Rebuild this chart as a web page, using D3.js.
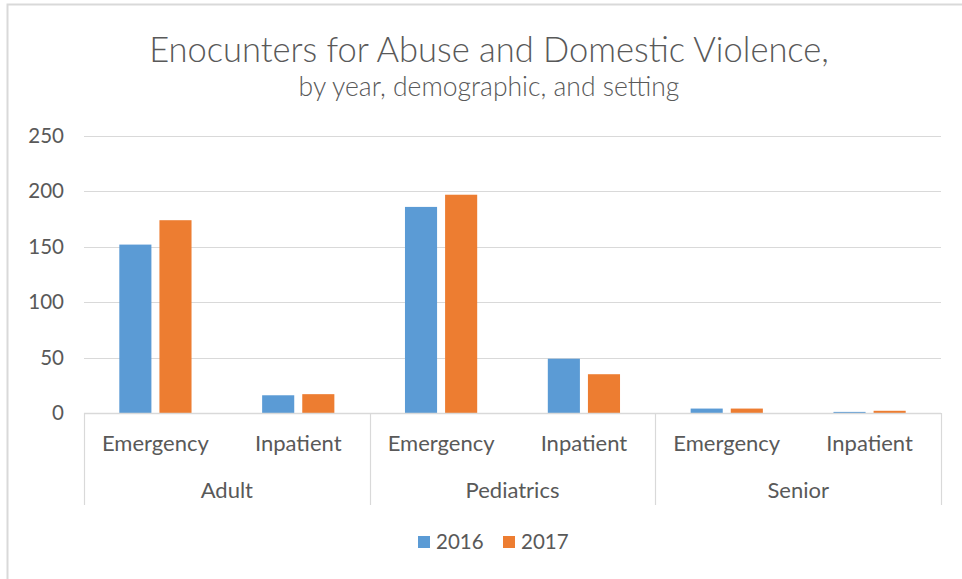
<!DOCTYPE html>
<html>
<head>
<meta charset="utf-8">
<script src="https://cdn.jsdelivr.net/npm/d3@7/dist/d3.min.js"></script>
<style>
  html, body { margin: 0; padding: 0; background: #fff; }
  svg { display: block; }
  text { font-family: Lato, "Open Sans", sans-serif; fill: #595959; }
</style>
</head>
<body>
<svg id="chart" width="962" height="579"></svg>
<script>
// Encounter counts by demographic group and care setting
const groups = ["Adult", "Pediatrics", "Senior"];
const settings = ["Emergency", "Inpatient"];
const years = ["2016", "2017"];
const values2016 = [152, 16, 186, 49, 4, 1];
const values2017 = [174, 17, 197, 35, 4, 2];
const yTicks = [0, 50, 100, 150, 200, 250];

const colors = { "2016": "#5b9bd5", "2017": "#ed7d31" };

const svg = d3.select("#chart");
const W = 962, H = 579;
const plot = { left: 84, right: 941, top: 136, bottom: 413 };

// Chart area border
svg.append("rect")
  .attr("x", 7.5).attr("y", 4.5)
  .attr("width", W + 10).attr("height", H + 10)
  .attr("fill", "#fff").attr("stroke", "#d9d9d9").attr("stroke-width", 2);

// Titles
svg.append("text")
  .attr("x", 489).attr("y", 62)
  .attr("text-anchor", "middle")
  .style("font-size", "34.5px").style("font-weight", 300)
  .text("Enocunters for Abuse and Domestic Violence,");
svg.append("text")
  .attr("x", 489).attr("y", 96)
  .attr("text-anchor", "middle")
  .style("font-size", "26.5px").style("font-weight", 300)
  .text("by year, demographic, and setting");

// Flattened category list: one band per group/setting pair
const cats = [];
groups.forEach(g => settings.forEach(s => cats.push({ group: g, setting: s, key: g + "|" + s })));
cats.forEach((c, i) => { c["2016"] = values2016[i]; c["2017"] = values2017[i]; });

const x0 = d3.scaleBand().domain(cats.map(c => c.key)).range([plot.left, plot.right]).padding(0);
const xg = d3.scaleBand().domain(groups).range([plot.left, plot.right]).padding(0);
const x1 = d3.scaleBand().domain(years).range([0, x0.bandwidth()]).paddingInner(0.2).paddingOuter(0.88);
const y = d3.scaleLinear().domain([0, 250]).range([plot.bottom, plot.top]);

// Gridlines
svg.append("g")
  .selectAll("line").data(yTicks.filter(t => t > 0)).join("line")
  .attr("x1", plot.left).attr("x2", plot.right)
  .attr("y1", d => Math.round(y(d)) + 0.5).attr("y2", d => Math.round(y(d)) + 0.5)
  .attr("stroke", "#d9d9d9").attr("stroke-width", 1.2);

// Y axis labels
const yAxis = d3.axisLeft(y).tickValues(yTicks).tickSize(0).tickPadding(20);
const ya = svg.append("g").attr("transform", `translate(${plot.left},0)`).call(yAxis);
ya.select(".domain").remove();
ya.selectAll("text").style("font-size", "20.5px").attr("fill", "#595959")
  .style("font-family", "Lato, 'Open Sans', sans-serif");

// Bars
const barG = svg.append("g");
cats.forEach(c => {
  barG.selectAll(null).data(years).join("rect")
    .attr("x", yr => x0(c.key) + x1(yr))
    .attr("width", x1.bandwidth())
    .attr("y", yr => y(c[yr]))
    .attr("height", yr => y(0) - y(c[yr]))
    .attr("fill", yr => colors[yr]);
});

// Category axis: baseline plus group dividers
const axisG = svg.append("g");
axisG.append("line")
  .attr("x1", plot.left).attr("x2", plot.right)
  .attr("y1", plot.bottom + 0.5).attr("y2", plot.bottom + 0.5)
  .attr("stroke", "#d9d9d9").attr("stroke-width", 1.5);
const dividers = groups.map(g => xg(g)).concat([plot.right]);
axisG.selectAll("line.div").data(dividers).join("line")
  .attr("class", "div")
  .attr("x1", d => Math.round(d) + 0.5).attr("x2", d => Math.round(d) + 0.5)
  .attr("y1", plot.bottom).attr("y2", 505)
  .attr("stroke", "#d9d9d9").attr("stroke-width", 1.2);

// Setting labels
axisG.selectAll("text.set").data(cats).join("text")
  .attr("class", "set")
  .attr("x", c => x0(c.key) + x0.bandwidth() / 2)
  .attr("y", 451)
  .attr("text-anchor", "middle")
  .style("font-size", "22px")
  .text(c => c.setting);

// Group labels
axisG.selectAll("text.grp").data(groups).join("text")
  .attr("class", "grp")
  .attr("x", g => xg(g) + xg.bandwidth() / 2)
  .attr("y", 498)
  .attr("text-anchor", "middle")
  .style("font-size", "22px")
  .text(g => g);

// Legend
const legend = svg.append("g");
const legendItems = [{ k: "2016", x: 418 }, { k: "2017", x: 503 }];
legendItems.forEach(it => {
  legend.append("rect")
    .attr("x", it.x).attr("y", 536).attr("width", 12).attr("height", 12)
    .attr("fill", colors[it.k]);
  legend.append("text")
    .attr("x", it.x + 18).attr("y", 549)
    .style("font-size", "20.5px")
    .text(it.k);
});
</script>
</body>
</html>
